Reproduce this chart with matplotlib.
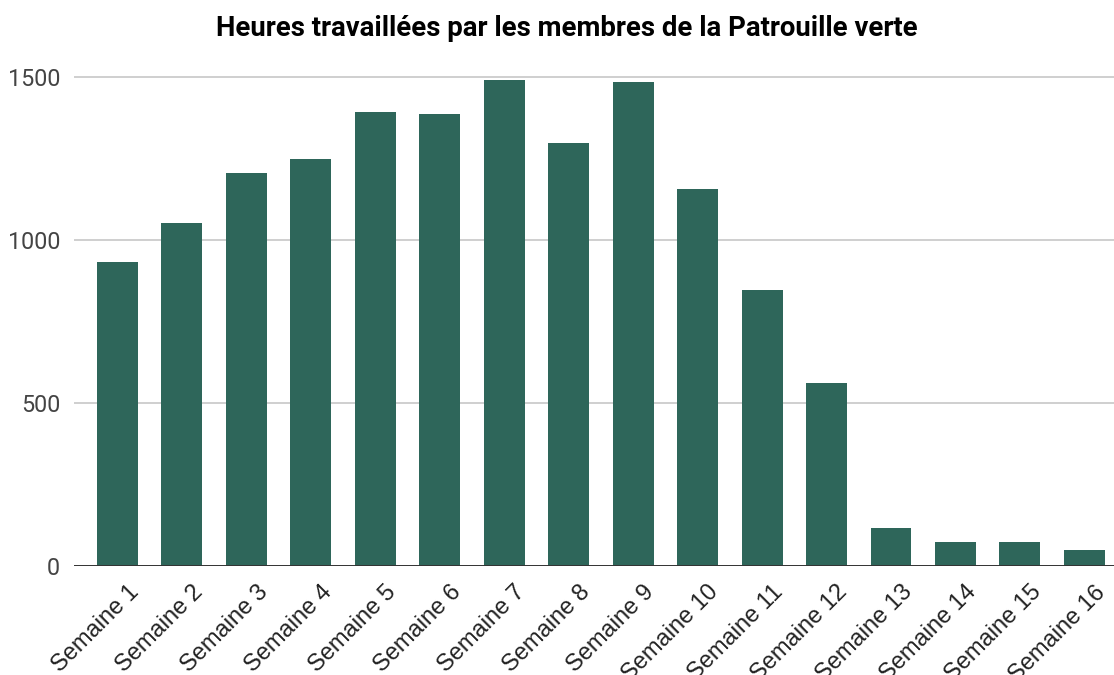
import matplotlib
matplotlib.use("Agg")
import matplotlib.pyplot as plt
from matplotlib.transforms import ScaledTranslation

categories = [f"Semaine {i}" for i in range(1, 17)]
hours = [931, 1051, 1205, 1247, 1393, 1386, 1490, 1296, 1484, 1156, 846, 560, 116, 75, 75, 49]
yticks = [0, 500, 1000, 1500]
title = "Heures travaillées par les membres de la Patrouille verte"

plt.rcParams['font.family'] = ['Roboto', 'DejaVu Sans']

fig = plt.figure(figsize=(11.14, 6.75), dpi=100)
ax = fig.add_axes([74/1114, 1 - 566/675, 1 - 74/1114, (566 - 60.4)/675])

x = list(range(len(categories)))
ax.bar(x, hours, width=0.635, color="#2e665a", zorder=3)

ax.set_xlim(-0.675, 15.46)
ax.set_ylim(0, 1550)
ax.set_yticks(yticks)
ax.set_yticklabels([str(v) for v in yticks], fontsize=16.8, color="#444444")
ax.tick_params(axis='y', length=0, pad=10)
ax.tick_params(axis='x', length=0, pad=11)
ax.grid(axis='y', color="#cccccc", linewidth=1.3, zorder=0)
ax.axhline(0, color="#333333", linewidth=1.4, zorder=4)

for s in ax.spines.values():
    s.set_visible(False)

ax.set_xticks(x)
ax.set_xticklabels(categories, rotation=45, ha='right', va='top', rotation_mode='anchor',
                   fontsize=17, color="#222222", family=['Liberation Sans', 'DejaVu Sans'])
offset = ScaledTranslation(10/100, 0, fig.dpi_scale_trans)
for lbl in ax.get_xticklabels():
    lbl.set_transform(lbl.get_transform() + offset)

fig.text(567/1114, 1 - 28/675, title, ha='center', va='center', fontsize=19.8,
         fontweight='bold', color="#000000")

fig.savefig("out.png", dpi=100, facecolor="white")
